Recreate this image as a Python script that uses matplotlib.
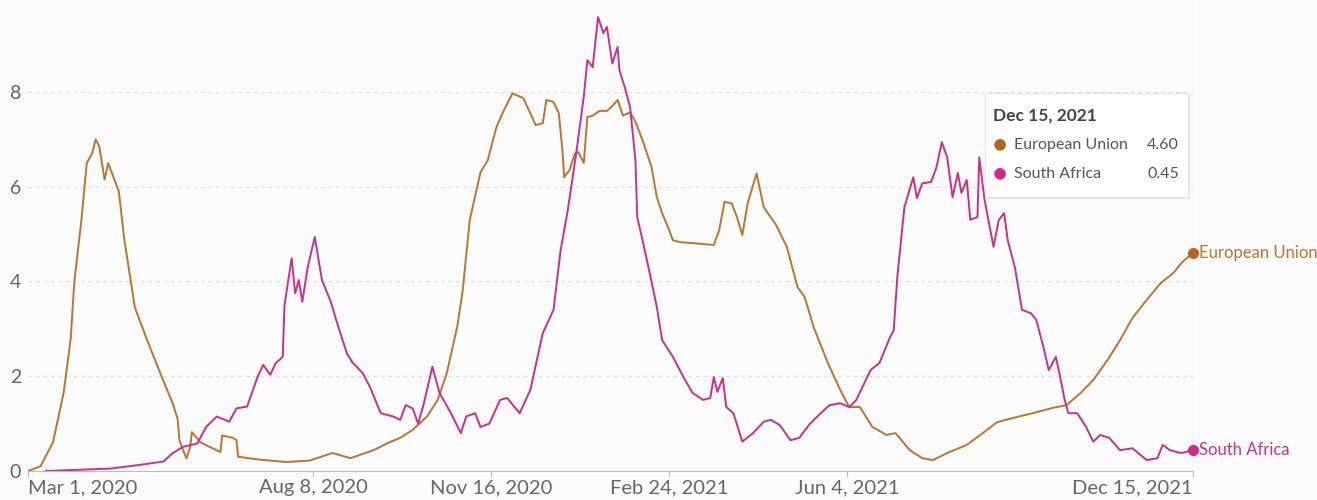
import numpy as np
import pandas as pd
import matplotlib
matplotlib.use('Agg')
import matplotlib.pyplot as plt
from matplotlib.patches import Rectangle

# days since Mar 1, 2020 and values
eu_day = [0, 7, 14, 20, 24, 26, 30, 33, 36, 38, 40, 43, 45, 51, 54, 60, 67, 76, 81, 84,
          85, 88, 89, 91, 92, 97, 108, 109, 115, 117, 118, 130, 145, 158, 171, 181, 194, 202, 209, 216,
          224, 230, 235, 241, 244, 248, 254, 258, 263, 267, 272, 278, 282, 285, 289, 291, 295, 298, 300, 301,
          304, 307, 309, 312, 314, 317, 321, 325, 328, 331, 334, 338, 341, 345, 350, 353, 356, 360, 362, 366,
          376, 385, 388, 391, 395, 398, 401, 404, 409, 413, 420, 426, 432, 436, 441, 449, 456, 461, 467, 474,
          482, 487, 495, 502, 508, 516, 527, 536, 544, 553, 564, 575, 583, 591, 598, 606, 613, 620, 628, 636,
          643, 648, 654]
eu_val = [0.0, 0.1, 0.6, 1.65, 2.8, 4.0, 5.3, 6.5, 6.7, 7.0, 6.85, 6.15, 6.5, 5.9, 4.9, 3.45, 2.75, 1.9, 1.45, 1.1,
          0.65, 0.35, 0.27, 0.5, 0.82, 0.6, 0.4, 0.75, 0.7, 0.65, 0.3, 0.24, 0.19, 0.22, 0.38, 0.27, 0.44, 0.59, 0.7, 0.87,
          1.15, 1.5, 2.05, 3.05, 3.8, 5.3, 6.3, 6.55, 7.26, 7.6, 7.97, 7.87, 7.55, 7.3, 7.34, 7.83, 7.79, 7.55, 6.77, 6.2,
          6.35, 6.7, 6.73, 6.5, 7.47, 7.5, 7.6, 7.6, 7.7, 7.83, 7.5, 7.57, 7.37, 6.98, 6.42, 5.78, 5.44, 5.08, 4.87, 4.83,
          4.8, 4.77, 5.08, 5.68, 5.65, 5.36, 4.98, 5.65, 6.28, 5.57, 5.19, 4.73, 3.88, 3.67, 3.04, 2.28, 1.71, 1.35, 1.35, 0.93,
          0.76, 0.8, 0.44, 0.27, 0.23, 0.38, 0.55, 0.8, 1.03, 1.12, 1.22, 1.33, 1.39, 1.65, 1.92, 2.34, 2.76, 3.23, 3.61, 3.97,
          4.18, 4.41, 4.60]

sa_day = [10, 46, 63, 76, 81, 87, 95, 100, 106, 113, 117, 123, 129, 132, 136, 139, 143, 144, 148, 150,
          152, 154, 157, 161, 165, 170, 173, 179, 182, 188, 192, 198, 205, 209, 212, 216, 219, 222, 227, 231,
          237, 243, 246, 251, 254, 259, 265, 269, 276, 282, 289, 295, 299, 303, 308, 312, 314, 317, 320, 323,
          325, 328, 331, 332, 335, 338, 341, 342, 345, 349, 353, 356, 362, 368, 373, 379, 383, 385, 387, 390,
          392, 396, 401, 407, 413, 417, 422, 428, 433, 439, 445, 450, 456, 461, 465, 473, 478, 484, 486, 488,
          492, 497, 499, 502, 507, 510, 513, 516, 519, 522, 524, 527, 529, 533, 534, 537, 542, 545, 548, 550,
          554, 558, 563, 566, 570, 573, 577, 579, 582, 584, 589, 594, 598, 602, 607, 613, 620, 628, 634, 637,
          641, 647, 650, 654]
sa_val = [0.0, 0.05, 0.13, 0.2, 0.37, 0.51, 0.58, 0.93, 1.15, 1.04, 1.32, 1.36, 2.0, 2.24, 2.03, 2.27, 2.41, 3.5, 4.49, 3.75,
          4.03, 3.57, 4.3, 4.94, 4.03, 3.57, 3.19, 2.48, 2.3, 2.06, 1.77, 1.22, 1.15, 1.08, 1.39, 1.32, 1.0, 1.39, 2.2, 1.65,
          1.25, 0.8, 1.15, 1.22, 0.93, 1.0, 1.5, 1.54, 1.22, 1.71, 2.91, 3.4, 4.66, 5.5, 6.77, 7.9, 8.67, 8.52, 9.58, 9.24,
          9.37, 8.6, 8.95, 8.46, 8.1, 7.68, 6.56, 5.36, 4.87, 4.18, 3.46, 2.76, 2.41, 1.98, 1.65, 1.5, 1.54, 1.98, 1.67, 1.96,
          1.35, 1.22, 0.62, 0.8, 1.04, 1.08, 0.97, 0.65, 0.7, 1.0, 1.22, 1.39, 1.43, 1.35, 1.5, 2.13, 2.28, 2.83, 2.97, 4.09,
          5.57, 6.2, 5.76, 6.07, 6.1, 6.41, 6.94, 6.62, 5.78, 6.29, 5.87, 6.14, 5.3, 5.36, 6.62, 5.72, 4.73, 5.3, 5.44, 4.87,
          4.3, 3.4, 3.33, 3.19, 2.62, 2.13, 2.41, 2.06, 1.5, 1.22, 1.22, 0.93, 0.62, 0.76, 0.7, 0.44, 0.48, 0.23, 0.27, 0.55,
          0.44, 0.38, 0.4, 0.45]

tick_dates = ['2020-03-01', '2020-08-08', '2020-11-16', '2021-02-24', '2021-06-04', '2021-12-15']
tick_labels = ['Mar 1, 2020', 'Aug 8, 2020', 'Nov 16, 2020', 'Feb 24, 2021', 'Jun 4, 2021', 'Dec 15, 2021']
y_ticks = [0, 2, 4, 6, 8]

eu_color = '#BC7430'
sa_color = '#CB2F8E'
eu_dot = '#B5651D'
sa_dot = '#D6268C'
bg = '#FBFBFB'

plt.rcParams['font.family'] = ['Lato', 'DejaVu Sans']

start = pd.Timestamp('2020-03-01')
eu_dates = start + pd.to_timedelta(eu_day, unit='D')
sa_dates = start + pd.to_timedelta(sa_day, unit='D')
end = pd.Timestamp(tick_dates[-1])

W, H = 1317, 500
fig = plt.figure(figsize=(W / 100, H / 100), dpi=100, facecolor=bg)
ax = fig.add_axes([28 / W, 29 / H, 1165 / W, 471 / H])
ax.set_facecolor(bg)

ax.plot(eu_dates, eu_val, color=eu_color, lw=1.4, zorder=3)
ax.plot(sa_dates, sa_val, color=sa_color, lw=1.4, zorder=3)

ax.set_xlim(start, end)
ax.set_ylim(0, 9.94)

# grid
for v in y_ticks[1:]:
    ax.axhline(v, color='#dddddd', lw=0.9, ls=(0, (3, 3)), zorder=1)
ax.axvline(end, color='#dedede', lw=1, zorder=2)

for s in ['top', 'right', 'left']:
    ax.spines[s].set_visible(False)
ax.spines['bottom'].set_color('#bbbbbb')

ax.set_yticks(y_ticks)
ax.set_yticklabels([str(v) for v in y_ticks], color='#666666', fontsize=14)
ax.tick_params(axis='y', length=0, pad=5)

ax.set_xticks(pd.to_datetime(tick_dates))
ax.set_xticklabels(tick_labels, color='#666666', fontsize=14.5)
ax.tick_params(axis='x', length=4, color='#bbbbbb', pad=2)
lbls = ax.get_xticklabels()
lbls[0].set_ha('left')
lbls[-1].set_ha('right')

# end markers and labels
ax.plot([end], [eu_val[-1]], 'o', color=eu_dot, ms=7, clip_on=False, zorder=4)
ax.plot([end], [sa_val[-1]], 'o', color=sa_dot, ms=7, clip_on=False, zorder=4)
ax.annotate('European Union', (end, eu_val[-1]), xytext=(4, 0), textcoords='offset points',
            va='center', ha='left', color=eu_color, fontsize=12, annotation_clip=False)
ax.annotate('South Africa', (end, sa_val[-1]), xytext=(4, 0), textcoords='offset points',
            va='center', ha='left', color=sa_color, fontsize=12, annotation_clip=False)

# tooltip
def fx(px):
    return px / W

def fy(py):
    return 1 - py / H

shadow = Rectangle((fx(987), fy(199)), fx(203), 104 / H, transform=fig.transFigure,
                   facecolor='#e4e4e4', edgecolor='none', zorder=5)
box = Rectangle((fx(985), fy(197)), fx(203), 104 / H, transform=fig.transFigure,
                facecolor='white', edgecolor='#e6e6e6', lw=0.8, zorder=6)
fig.patches.extend([shadow, box])
fig.text(fx(993), fy(116), tick_labels[-1], fontsize=12.5, fontweight='bold', color='#444444',
         va='center', ha='left', zorder=7)
fig.text(fx(1000), fy(145), '\u25cf', fontsize=17, color=eu_dot, va='center', ha='center', zorder=7)
fig.text(fx(1000), fy(174), '\u25cf', fontsize=17, color=sa_dot, va='center', ha='center', zorder=7)
fig.text(fx(1014), fy(145), 'European Union', fontsize=11.5, color='#555555', va='center', ha='left', zorder=7)
fig.text(fx(1014), fy(174), 'South Africa', fontsize=11.5, color='#555555', va='center', ha='left', zorder=7)
fig.text(fx(1179), fy(145), '%.2f' % eu_val[-1], fontsize=11.5, color='#555555', va='center', ha='right', zorder=7)
fig.text(fx(1179), fy(174), '%.2f' % sa_val[-1], fontsize=11.5, color='#555555', va='center', ha='right', zorder=7)

fig.savefig('out.png', dpi=100, facecolor=bg)
